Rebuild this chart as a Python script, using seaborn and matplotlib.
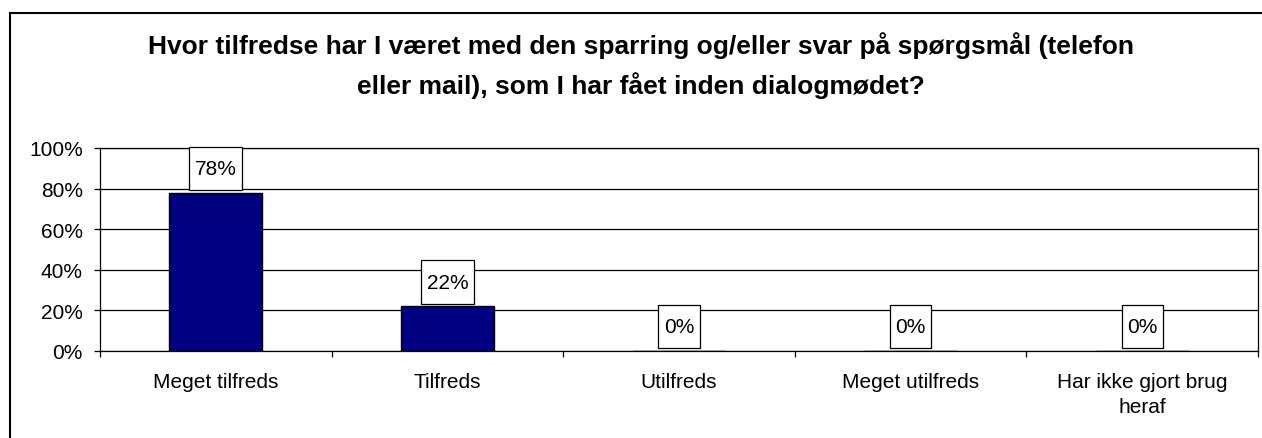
import matplotlib
matplotlib.use("Agg")
import matplotlib.pyplot as plt
import seaborn as sns
import pandas as pd
from matplotlib.path import Path
from matplotlib.patches import Rectangle

categories = ["Meget tilfreds", "Tilfreds", "Utilfreds", "Meget utilfreds",
              "Har ikke gjort brug\nheraf"]
values = [0.78, 0.22, 0.0, 0.0, 0.0]
labels = ["78%", "22%", "0%", "0%", "0%"]
yticks = [0, 0.2, 0.4, 0.6, 0.8, 1.0]
ytick_labels = ["0%", "20%", "40%", "60%", "80%", "100%"]
title = ("Hvor tilfredse har I været med den sparring og/eller svar på spørgsmål (telefon\n"
         "eller mail), som I har fået inden dialogmødet?")

sns.set_theme(style="white")
plt.rcParams["font.family"] = ["Liberation Sans", "DejaVu Sans"]

W, H, DPI = 1262, 439, 100
fig = plt.figure(figsize=(W / DPI, H / DPI), dpi=DPI)
ax = fig.add_axes([100 / W, 1 - 352 / H, (1258 - 100) / W, (352 - 149) / H])

df = pd.DataFrame({"cat": categories, "val": values})
sns.barplot(data=df, x="cat", y="val", ax=ax, color="#000080", saturation=1,
            width=0.4, edgecolor="black", linewidth=1.0, zorder=3)

ax.set_ylim(0, 1.0)
ax.set_xlim(-0.5, len(categories) - 0.5)
ax.set_yticks(yticks)
ax.set_yticklabels(ytick_labels)
ax.yaxis.grid(True, color="black", linewidth=0.9, zorder=0)
ax.set_axisbelow(True)
ax.set_xlabel("")
ax.set_ylabel("")

ax.tick_params(axis="y", which="major", direction="out", length=4.5, width=0.9,
               color="black", pad=8, labelsize=15, labelcolor="black", left=True)
ax.tick_params(axis="x", which="major", length=0, pad=15, labelsize=15,
               labelcolor="black")
ax.set_xticks([i - 0.5 for i in range(len(categories) + 1)], minor=True)
ax.tick_params(axis="x", which="minor", direction="out", length=4.5, width=0.9,
               color="black", bottom=True)
for lab in ax.get_xticklabels():
    lab.set_linespacing(1.4)

for sp in ax.spines.values():
    sp.set_visible(True)
    sp.set_color("black")
    sp.set_linewidth(0.9)


def label_box(x0, y0, width, height, mutation_size):
    px = 0.26 * mutation_size
    py = 0.58 * mutation_size
    x0 -= px
    x1 = x0 + width + 2 * px
    y0 -= py
    y1 = y0 + height + 2 * py
    return Path([(x0, y0), (x1, y0), (x1, y1), (x0, y1), (x0, y0)], closed=True)


for i, (v, t) in enumerate(zip(values, labels)):
    ax.annotate(t, xy=(i, v), xytext=(0, 17.5), textcoords="offset points",
                ha="center", va="center", fontsize=15, color="black", zorder=5,
                bbox=dict(boxstyle=label_box, facecolor="white",
                          edgecolor="black", linewidth=0.9),
                annotation_clip=False)

fig.text(641 / W, 1 - 32 / H, title, ha="center", va="top", fontsize=19,
         fontweight="bold", color="black", linespacing=1.62)

border = Rectangle((10 / W, -0.1), 1.2, 1 - 14 / H + 0.1, transform=fig.transFigure,
                   fill=False, edgecolor="black", linewidth=1.5, zorder=10)
fig.patches.append(border)

fig.savefig("out.png", dpi=DPI, facecolor="white")
